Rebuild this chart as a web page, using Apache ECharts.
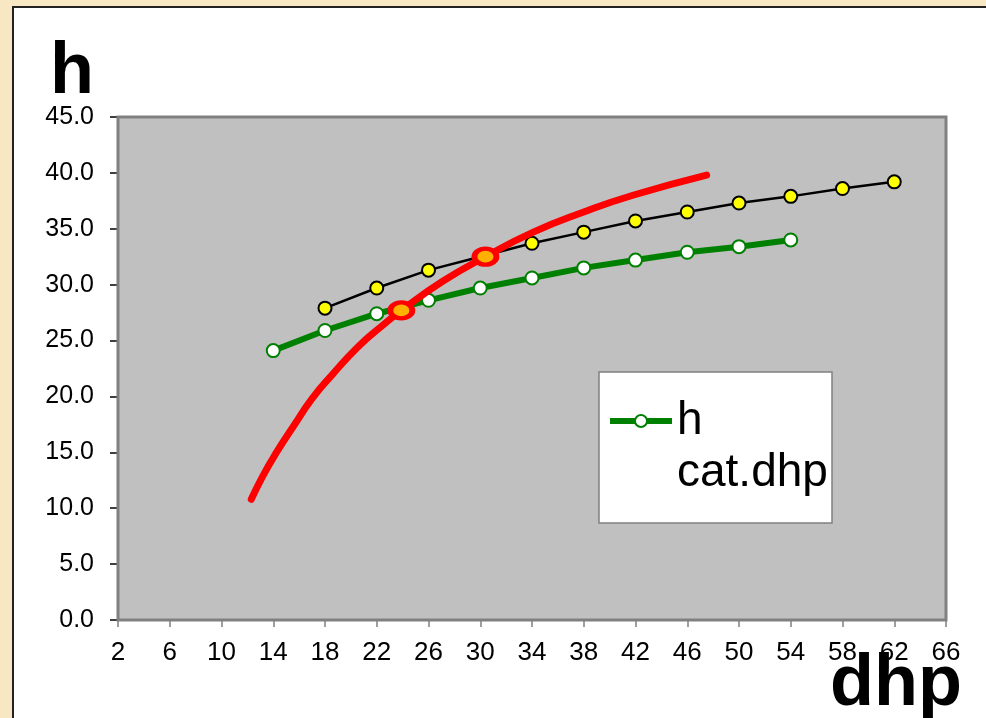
<!DOCTYPE html>
<html>
<head>
<meta charset="utf-8">
<script src="https://cdn.jsdelivr.net/npm/echarts@6/dist/echarts.min.js"></script>
<style>
  html, body { margin: 0; padding: 0; background: #f7e7c3; }
  #chart { width: 986px; height: 718px; }
</style>
</head>
<body>
<div id="chart"></div>
<script>
// ---- data ----
const dhpBlack = [18, 22, 26, 30, 34, 38, 42, 46, 50, 54, 58, 62];
const hBlack   = [27.9, 29.7, 31.3, 32.5, 33.7, 34.7, 35.7, 36.5, 37.3, 37.9, 38.6, 39.2];

const dhpGreen = [14, 18, 22, 26, 30, 34, 38, 42, 46, 50, 54];
const hGreen   = [24.1, 25.9, 27.4, 28.6, 29.7, 30.6, 31.5, 32.2, 32.9, 33.4, 34.0];

const dhpRed = [12.3, 13.2, 14.2, 15.6, 17.0, 18.6, 20.6, 22.5, 23.9, 27.1, 30.4, 34.1, 38.0, 41.8, 47.5];
const hRed   = [10.8, 12.9, 14.9, 17.4, 19.8, 22.0, 24.5, 26.4, 27.7, 30.3, 32.5, 34.7, 36.5, 38.0, 39.8];

const dhpCross = [23.9, 30.4];
const hCross   = [27.7, 32.5];

const legendName = 'h cat.dhp';
const yTitle = 'h';
const xTitle = 'dhp';

const zip = (xs, ys) => xs.map((x, i) => [x, ys[i]]);
const FONT = '"Liberation Sans", Arial, sans-serif';

const chart = echarts.init(document.getElementById('chart'), null, { renderer: 'canvas' });

chart.setOption({
  backgroundColor: '#f7e7c3',
  animation: false,
  textStyle: { fontFamily: FONT },
  graphic: [
    {
      type: 'rect', z: 0, silent: true,
      shape: { x: 13, y: 7, width: 1100, height: 900 },
      style: { fill: '#ffffff', stroke: '#222222', lineWidth: 2 }
    },
    {
      type: 'rect', z: 9, silent: true,
      shape: { x: 599, y: 372, width: 233, height: 151 },
      style: { fill: '#ffffff', stroke: '#808080', lineWidth: 1.5 }
    },
    {
      type: 'text', z: 20, silent: true,
      x: 50, y: 73,
      style: { text: yTitle, fill: '#000', font: 'bold 72px ' + FONT, textAlign: 'left', textVerticalAlign: 'middle' }
    },
    {
      type: 'text', z: 20, silent: true,
      x: 830, y: 685,
      style: { text: xTitle, fill: '#000', font: 'bold 72px ' + FONT, textAlign: 'left', textVerticalAlign: 'middle' }
    }
  ],
  grid: {
    left: 118, top: 117, right: 40, bottom: 98,
    show: true, backgroundColor: '#c0c0c0', borderColor: '#808080', borderWidth: 3,
    z: 1
  },
  xAxis: {
    type: 'value', min: 2, max: 66, interval: 4,
    axisLine: { show: true, onZero: false, lineStyle: { color: '#000', width: 2 } },
    axisTick: { show: true, inside: false, length: 7, lineStyle: { color: '#808080', width: 1.5 } },
    axisLabel: { color: '#000', fontSize: 26, fontFamily: FONT, margin: 20 },
    splitLine: { show: false }
  },
  yAxis: {
    type: 'value', min: 0, max: 45, interval: 5,
    axisLine: { show: true, onZero: false, lineStyle: { color: '#000', width: 2 } },
    axisTick: { show: true, inside: false, length: 8, lineStyle: { color: '#000', width: 1.5 } },
    axisLabel: { color: '#000', fontSize: 25, fontFamily: FONT, margin: 24,
      formatter: v => v.toFixed(1) },
    splitLine: { show: true, lineStyle: { color: '#4a4a4a', width: 1.5 } }
  },
  legend: {
    show: true, z: 10,
    left: 607, top: 343, padding: 0,
    orient: 'vertical',
    data: [legendName],
    itemWidth: 62, itemHeight: 15,
    formatter: () => ' \nh\ncat.dhp',
    lineStyle: { color: '#008000', width: 6 },
    itemStyle: { color: '#ffffff', borderColor: '#008000', borderWidth: 2 },
    textStyle: { color: '#000', fontSize: 46, lineHeight: 52, fontFamily: FONT },
    selectedMode: false
  },
  series: [
    {
      name: 'black', type: 'line', z: 3,
      data: zip(dhpBlack, hBlack),
      symbol: 'circle', symbolSize: 13,
      lineStyle: { color: '#000', width: 2.5 },
      itemStyle: { color: '#ffff00', borderColor: '#000', borderWidth: 2 }
    },
    {
      name: legendName, type: 'line', z: 4,
      data: zip(dhpGreen, hGreen),
      symbol: 'circle', symbolSize: 13,
      lineStyle: { color: '#008000', width: 6 },
      itemStyle: { color: '#ffffff', borderColor: '#008000', borderWidth: 2 }
    },
    {
      name: 'curve', type: 'line', z: 5,
      data: zip(dhpRed, hRed),
      symbol: 'none', smooth: 0.5,
      lineStyle: { color: '#ff0000', width: 7, cap: 'round', join: 'round' }
    },
    {
      name: 'cross', type: 'scatter', z: 6,
      data: zip(dhpCross, hCross),
      symbol: 'circle', symbolSize: [22, 16],
      itemStyle: { color: '#ffb000', borderColor: '#ff0000', borderWidth: 5, opacity: 1 }
    }
  ]
});
</script>
</body>
</html>
